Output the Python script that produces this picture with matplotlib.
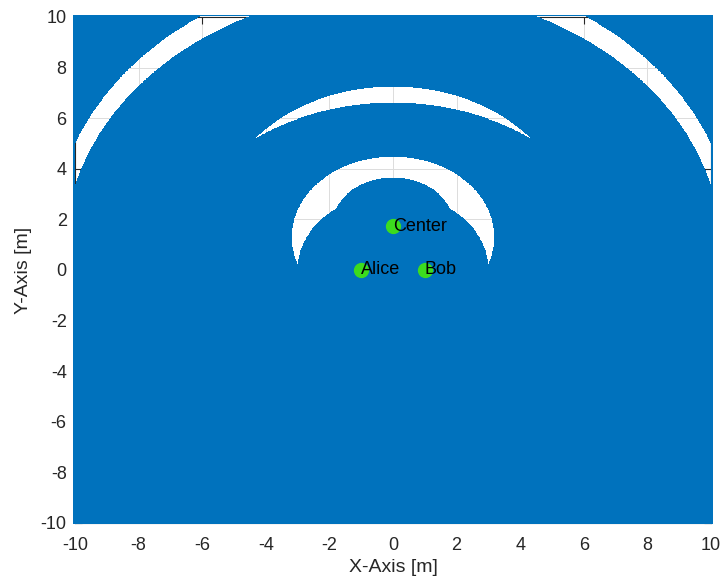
import numpy as np
import matplotlib
matplotlib.use('Agg')
import matplotlib.pyplot as plt
from matplotlib.colors import to_rgba

plt.rcParams['font.family'] = ['Liberation Sans', 'DejaVu Sans']
plt.rcParams['axes.unicode_minus'] = False

# Labelled points
point_names = ['Alice', 'Bob', 'Center']
point_x = [-1.0, 1.0, 0.0]
point_y = [0.0, 0.0, 1.73]

# White gaps in the blue region: an outer circle (centre on the y-axis)
# minus the union of inner circles (centres on the y-axis)
gap_outer_cy = [1.28, 1.64, 1.20]
gap_outer_r = [3.18, 5.59, 10.68]
gap_inner_cy = [[0.0, 1.73], [-0.65], [0.71]]
gap_inner_r = [[3.0, 1.91], [7.25], [10.33]]
gap_min_y = 0.0

x_limits = [-10, 10]
y_limits = [-10, 10]
tick_values = list(range(-10, 11, 2))

BLUE = '#0072BD'
GREEN = '#3cdc1e'
DARK = '#262626'

fig = plt.figure(figsize=(7.23, 5.8), dpi=100)
ax = fig.add_axes([0.1037, 0.0983, 0.8797, 0.8724])

# region mask (slightly larger than the axes so it hides the spine outside the axes)
ext = 0.05
n = 1500
xs = np.linspace(x_limits[0] - ext, x_limits[1] + ext, n)
ys = np.linspace(y_limits[0] - ext, y_limits[1] + ext, n)
X, Y = np.meshgrid(xs, ys)
white = np.zeros(X.shape, dtype=bool)
for ocy, orad, icys, irads in zip(gap_outer_cy, gap_outer_r, gap_inner_cy, gap_inner_r):
    g = X**2 + (Y - ocy)**2 < orad**2
    for icy, irad in zip(icys, irads):
        g &= X**2 + (Y - icy)**2 > irad**2
    white |= g
white &= Y > gap_min_y
white &= (np.abs(X) <= x_limits[1]) & (np.abs(Y) <= y_limits[1])

rgba = np.zeros(X.shape + (4,))
rgba[...] = to_rgba(BLUE)
rgba[white, 3] = 0.0
im = ax.imshow(rgba, extent=[xs[0], xs[-1], ys[0], ys[-1]], origin='lower',
               aspect='auto', interpolation='nearest', zorder=3)
im.set_clip_on(False)

ax.plot(point_x, point_y, 'o', color=GREEN, mec=GREEN, markersize=10, zorder=4)
for name, px, py in zip(point_names, point_x, point_y):
    ax.text(px, py, name, ha='left', va='center', fontsize=13, color='black', zorder=5)

ax.set_xlim(x_limits)
ax.set_ylim(y_limits)
ax.set_xticks(tick_values)
ax.set_yticks(tick_values)
ax.grid(True, color='#dcdcdc', linewidth=0.7)
ax.set_axisbelow(True)
ax.tick_params(direction='in', length=5, width=0.8, color=DARK, labelcolor=DARK,
               labelsize=13, top=True, right=True)
ax.tick_params(axis='x', pad=10)
ax.tick_params(axis='y', pad=6)
for s in ax.spines.values():
    s.set_color(DARK)
    s.set_linewidth(0.8)

ax.set_xlabel('X-Axis [m]', fontsize=14, color=DARK, labelpad=4)
ax.set_ylabel('Y-Axis [m]', fontsize=14, color=DARK, labelpad=6)

fig.savefig('out.png', dpi=100)
